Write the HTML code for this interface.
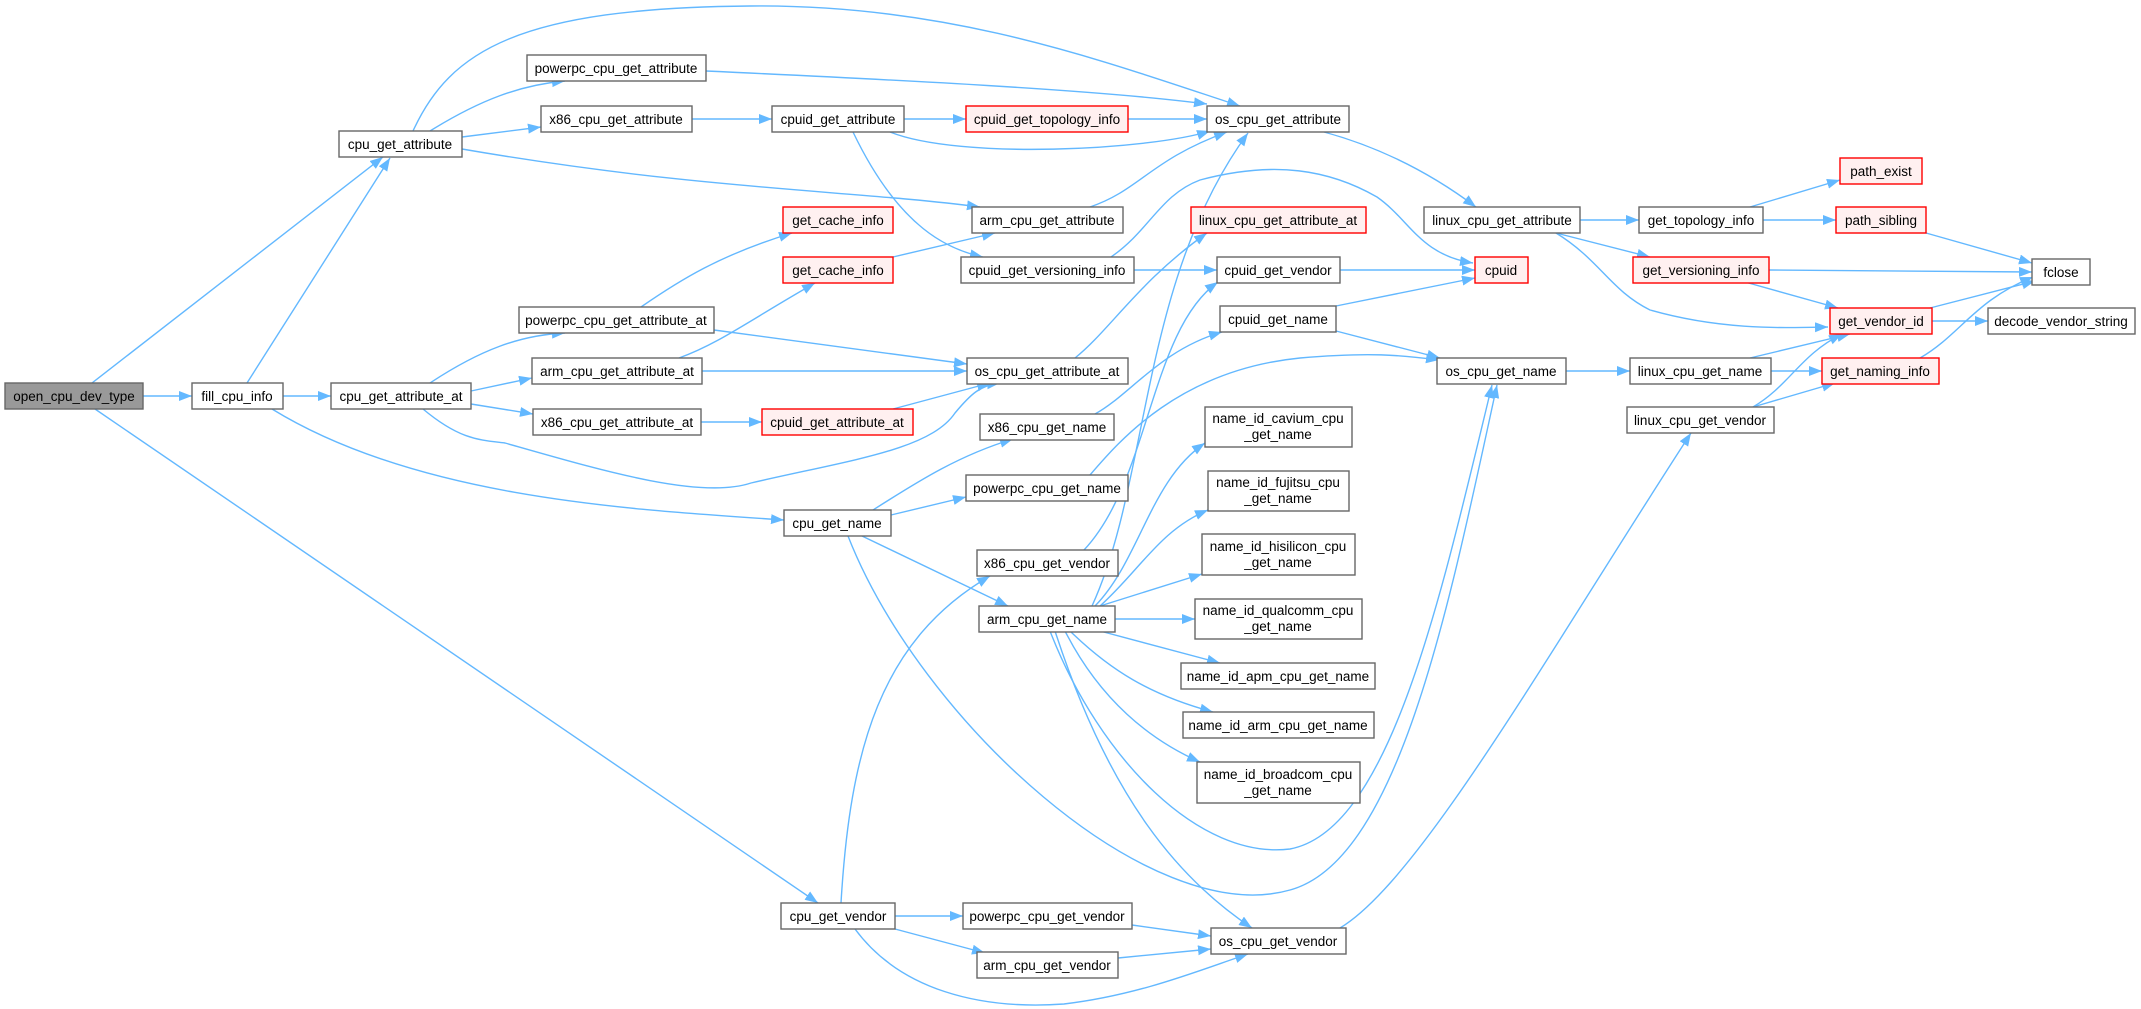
<!DOCTYPE html>
<html><head><meta charset="utf-8"><style>
html,body{margin:0;padding:0;background:#fff;width:2141px;height:1009px;overflow:hidden}
svg text{font-family:"Liberation Sans",Arial,sans-serif;font-size:13.5px;fill:#000;text-anchor:middle}
.n{fill:#fff;stroke:#666;stroke-width:1.4}
.r{fill:#fff0f0;stroke:#ff0000;stroke-width:1.4}
.g{fill:#999;stroke:#666;stroke-width:1.4}
.e{fill:none;stroke:#63b8ff;stroke-width:1.4}
</style></head><body>
<svg width="2141" height="1009" viewBox="0 0 2141 1009" xmlns="http://www.w3.org/2000/svg">
<defs><marker id="a" markerUnits="userSpaceOnUse" markerWidth="14" markerHeight="12" refX="13" refY="5" orient="auto"><path d="M0,0 L13,5 L0,10 z" fill="#63b8ff"/></marker></defs>
<g class="e" marker-end="url(#a)">
<path d="M92,383 L383,157"/>
<path d="M143,396 L192,396"/>
<path d="M95,409 L818,903"/>
<path d="M247,383 L390,158"/>
<path d="M283,396 L331,396"/>
<path d="M272,409 C420,500 640,510 784,520"/>
<path d="M413,131 C450,50 520,8 750,6 C950,4 1100,60 1240,106"/>
<path d="M430,131 C480,100 520,85 565,81"/>
<path d="M462,137 L541,127"/>
<path d="M462,149 C700,190 850,190 980,207"/>
<path d="M706,71 C900,80 1100,90 1207,104"/>
<path d="M692,119 L772,119"/>
<path d="M904,119 L966,119"/>
<path d="M890,132 C960,160 1150,150 1210,131"/>
<path d="M853,132 C900,230 950,250 983,257"/>
<path d="M1128,119 L1207,119"/>
<path d="M1090,207 C1140,190 1150,160 1227,132"/>
<path d="M1324,132 C1390,150 1440,180 1476,207"/>
<path d="M1111,257 C1150,230 1160,195 1200,180 C1275,160 1330,170 1377,197 C1410,220 1420,255 1473,263"/>
<path d="M1134,270 L1217,270"/>
<path d="M1075,358 C1110,330 1140,280 1207,233"/>
<path d="M1340,270 L1475,270"/>
<path d="M1336,306 L1475,278"/>
<path d="M1336,331 L1440,358"/>
<path d="M1580,220 L1639,220"/>
<path d="M1556,233 L1650,257"/>
<path d="M1556,233 C1600,260 1610,290 1650,310 C1720,330 1780,328 1828,327"/>
<path d="M1750,207 L1840,180"/>
<path d="M1763,220 L1836,220"/>
<path d="M1926,233 L2032,263"/>
<path d="M1769,270 L2032,272"/>
<path d="M1745,282 L1838,308"/>
<path d="M1930,308 L2035,281"/>
<path d="M1932,321 L1988,321"/>
<path d="M1920,358 C1960,335 1975,300 2033,277"/>
<path d="M1566,371 L1630,371"/>
<path d="M1750,358 L1850,334"/>
<path d="M1771,371 L1822,371"/>
<path d="M1753,407 C1790,385 1800,355 1842,334"/>
<path d="M1753,407 L1835,383"/>
<path d="M430,383 C480,350 520,335 565,333"/>
<path d="M471,391 L532,378"/>
<path d="M471,404 L533,414"/>
<path d="M423,409 C460,440 480,440 505,443 C600,470 700,500 751,483 C850,460 930,450 955,413 C970,395 980,385 1000,383"/>
<path d="M641,307 C680,280 720,255 792,233"/>
<path d="M714,330 L967,364"/>
<path d="M679,358 C720,343 750,320 815,283"/>
<path d="M702,371 L967,371"/>
<path d="M701,422 L762,422"/>
<path d="M893,409 L990,383"/>
<path d="M893,257 L995,233"/>
<path d="M1095,414 C1130,395 1160,350 1222,332"/>
<path d="M1090,475 C1120,440 1180,370 1300,358 C1370,352 1400,355 1439,360"/>
<path d="M873,510 C920,480 960,455 1013,439"/>
<path d="M891,515 L966,497"/>
<path d="M862,536 L1008,606"/>
<path d="M848,536 C920,720 1150,930 1290,890 C1400,860 1450,600 1497,385"/>
<path d="M1050,631 C1100,760 1200,860 1290,849 C1390,830 1440,600 1492,385"/>
<path d="M1055,631 C1110,800 1180,880 1252,928"/>
<path d="M1095,606 C1140,560 1150,480 1205,443"/>
<path d="M1100,606 C1140,570 1160,530 1208,510"/>
<path d="M1100,606 L1202,574"/>
<path d="M1115,619 L1195,619"/>
<path d="M1100,631 L1220,663"/>
<path d="M1070,631 C1110,670 1150,695 1213,712"/>
<path d="M1065,631 C1100,700 1150,740 1200,762"/>
<path d="M1092,606 C1150,480 1140,280 1248,133"/>
<path d="M1084,550 C1150,480 1150,330 1218,282"/>
<path d="M841,903 C850,750 880,640 990,576"/>
<path d="M895,916 L963,916"/>
<path d="M895,929 L985,953"/>
<path d="M855,929 C900,990 980,1010 1064,1004 C1140,995 1200,970 1248,954"/>
<path d="M1132,925 L1211,936"/>
<path d="M1118,958 L1211,949"/>
<path d="M1340,928 C1420,880 1550,650 1691,433"/>
</g>
<rect class="g" x="5" y="383" width="138" height="26"/><text x="74" y="401">open_cpu_dev_type</text>
<rect class="n" x="192" y="383" width="91" height="26"/><text x="237" y="401">fill_cpu_info</text>
<rect class="n" x="331" y="383" width="140" height="26"/><text x="401" y="401">cpu_get_attribute_at</text>
<rect class="n" x="339" y="131" width="123" height="26"/><text x="400" y="149">cpu_get_attribute</text>
<rect class="n" x="527" y="55" width="179" height="26"/><text x="616" y="73">powerpc_cpu_get_attribute</text>
<rect class="n" x="541" y="106" width="151" height="26"/><text x="616" y="124">x86_cpu_get_attribute</text>
<rect class="n" x="772" y="106" width="132" height="26"/><text x="838" y="124">cpuid_get_attribute</text>
<rect class="r" x="966" y="106" width="162" height="26"/><text x="1047" y="124">cpuid_get_topology_info</text>
<rect class="n" x="1207" y="106" width="142" height="26"/><text x="1278" y="124">os_cpu_get_attribute</text>
<rect class="r" x="783" y="207" width="110" height="26"/><text x="838" y="225">get_cache_info</text>
<rect class="r" x="783" y="257" width="110" height="26"/><text x="838" y="275">get_cache_info</text>
<rect class="n" x="972" y="207" width="151" height="26"/><text x="1047" y="225">arm_cpu_get_attribute</text>
<rect class="n" x="961" y="257" width="173" height="26"/><text x="1047" y="275">cpuid_get_versioning_info</text>
<rect class="n" x="519" y="307" width="195" height="26"/><text x="616" y="325">powerpc_cpu_get_attribute_at</text>
<rect class="n" x="532" y="358" width="170" height="26"/><text x="617" y="376">arm_cpu_get_attribute_at</text>
<rect class="n" x="533" y="409" width="168" height="26"/><text x="617" y="427">x86_cpu_get_attribute_at</text>
<rect class="r" x="762" y="409" width="151" height="26"/><text x="837" y="427">cpuid_get_attribute_at</text>
<rect class="n" x="967" y="358" width="161" height="26"/><text x="1047" y="376">os_cpu_get_attribute_at</text>
<rect class="n" x="980" y="414" width="134" height="26"/><text x="1047" y="432">x86_cpu_get_name</text>
<rect class="n" x="966" y="475" width="162" height="26"/><text x="1047" y="493">powerpc_cpu_get_name</text>
<rect class="r" x="1191" y="207" width="175" height="26"/><text x="1278" y="225">linux_cpu_get_attribute_at</text>
<rect class="n" x="1424" y="207" width="156" height="26"/><text x="1502" y="225">linux_cpu_get_attribute</text>
<rect class="n" x="1639" y="207" width="124" height="26"/><text x="1701" y="225">get_topology_info</text>
<rect class="r" x="1840" y="158" width="82" height="26"/><text x="1881" y="176">path_exist</text>
<rect class="r" x="1836" y="207" width="90" height="26"/><text x="1881" y="225">path_sibling</text>
<rect class="n" x="1217" y="257" width="123" height="26"/><text x="1278" y="275">cpuid_get_vendor</text>
<rect class="r" x="1475" y="257" width="53" height="26"/><text x="1501" y="275">cpuid</text>
<rect class="r" x="1633" y="257" width="136" height="26"/><text x="1701" y="275">get_versioning_info</text>
<rect class="n" x="2032" y="259" width="58" height="26"/><text x="2061" y="277">fclose</text>
<rect class="n" x="1220" y="306" width="116" height="26"/><text x="1278" y="324">cpuid_get_name</text>
<rect class="r" x="1830" y="308" width="102" height="26"/><text x="1881" y="326">get_vendor_id</text>
<rect class="n" x="1988" y="308" width="147" height="26"/><text x="2061" y="326">decode_vendor_string</text>
<rect class="n" x="1437" y="358" width="129" height="26"/><text x="1501" y="376">os_cpu_get_name</text>
<rect class="n" x="1630" y="358" width="141" height="26"/><text x="1700" y="376">linux_cpu_get_name</text>
<rect class="r" x="1822" y="358" width="117" height="26"/><text x="1880" y="376">get_naming_info</text>
<rect class="n" x="1627" y="407" width="147" height="26"/><text x="1700" y="425">linux_cpu_get_vendor</text>
<rect class="n" x="1205" y="407" width="147" height="40"/><text x="1278" y="423">name_id_cavium_cpu</text><text x="1278" y="439">_get_name</text>
<rect class="n" x="1208" y="471" width="141" height="40"/><text x="1278" y="487">name_id_fujitsu_cpu</text><text x="1278" y="503">_get_name</text>
<rect class="n" x="1202" y="534" width="153" height="41"/><text x="1278" y="551">name_id_hisilicon_cpu</text><text x="1278" y="567">_get_name</text>
<rect class="n" x="1195" y="599" width="167" height="40"/><text x="1278" y="615">name_id_qualcomm_cpu</text><text x="1278" y="631">_get_name</text>
<rect class="n" x="1181" y="663" width="194" height="26"/><text x="1278" y="681">name_id_apm_cpu_get_name</text>
<rect class="n" x="1183" y="712" width="191" height="26"/><text x="1278" y="730">name_id_arm_cpu_get_name</text>
<rect class="n" x="1197" y="762" width="163" height="41"/><text x="1278" y="779">name_id_broadcom_cpu</text><text x="1278" y="795">_get_name</text>
<rect class="n" x="784" y="510" width="107" height="26"/><text x="837" y="528">cpu_get_name</text>
<rect class="n" x="977" y="550" width="141" height="26"/><text x="1047" y="568">x86_cpu_get_vendor</text>
<rect class="n" x="979" y="606" width="136" height="26"/><text x="1047" y="624">arm_cpu_get_name</text>
<rect class="n" x="781" y="903" width="114" height="26"/><text x="838" y="921">cpu_get_vendor</text>
<rect class="n" x="963" y="903" width="169" height="26"/><text x="1047" y="921">powerpc_cpu_get_vendor</text>
<rect class="n" x="977" y="952" width="141" height="26"/><text x="1047" y="970">arm_cpu_get_vendor</text>
<rect class="n" x="1211" y="928" width="135" height="26"/><text x="1278" y="946">os_cpu_get_vendor</text>
</svg>
</body></html>
